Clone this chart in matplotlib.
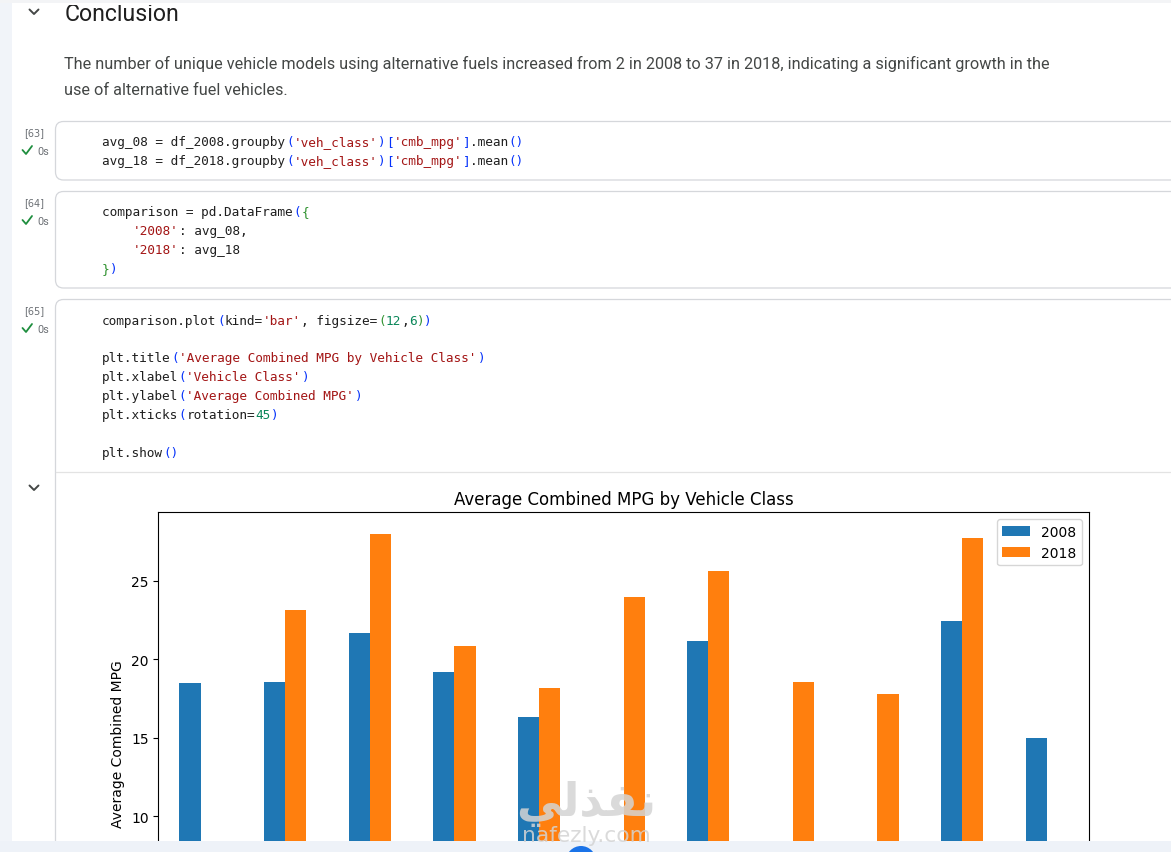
import numpy as np
import matplotlib
matplotlib.use("Agg")
import matplotlib.pyplot as plt
import pandas as pd
from matplotlib.patches import FancyBboxPatch, Rectangle, Circle

# ---------------- data ----------------
categories = ['SUV', 'large car', 'midsize car', 'minivan', 'pickup', 'small SUV',
              'small car', 'special purpose', 'standard SUV', 'station wagon', 'van']
mpg_2008 = [18.47, 18.53, 21.65, 19.17, 16.32, np.nan, 21.14, np.nan, np.nan, 22.41, 14.97]
mpg_2018 = [np.nan, 23.11, 27.95, 20.82, 18.16, 23.94, 25.59, 18.53, 17.77, 27.69, np.nan]
series_names = ['2008', '2018']
chart_title = 'Average Combined MPG by Vehicle Class'
x_label = 'Vehicle Class'
y_label = 'Average Combined MPG'

heading = 'Conclusion'
para_lines = ['The number of unique vehicle models using alternative fuels increased from 2 in 2008 to 37 in 2018, indicating a significant growth in the',
              'use of alternative fuel vehicles.']
cell_numbers = ['[63]', '[64]', '[65]']
watermark_ar = '\ufef2\ufedf\ufeac\ufed4\ufee7'   # نفذلي (shaped, visual order)
watermark_en = 'nafezly.com'

# code cells: list of lines, each a list of (text, kind)
code_63 = [
    [('avg_08 = df_2008.groupby', 'n'), ('(', 'b1'), ("'veh_class'", 's'), (')', 'b1'), ('[', 'b1'),
     ("'cmb_mpg'", 's'), (']', 'b1'), ('.mean', 'n'), ('()', 'b1')],
    [('avg_18 = df_2018.groupby', 'n'), ('(', 'b1'), ("'veh_class'", 's'), (')', 'b1'), ('[', 'b1'),
     ("'cmb_mpg'", 's'), (']', 'b1'), ('.mean', 'n'), ('()', 'b1')],
]
code_64 = [
    [('comparison = pd.DataFrame', 'n'), ('(', 'b1'), ('{', 'b2')],
    [('    ', 'n'), ("'2008'", 's'), (': avg_08,', 'n')],
    [('    ', 'n'), ("'2018'", 's'), (': avg_18', 'n')],
    [('}', 'b2'), (')', 'b1')],
]
code_65 = [
    [('comparison.plot', 'n'), ('(', 'b1'), ('kind=', 'n'), ("'bar'", 's'), (', figsize=', 'n'),
     ('(', 'b2'), ('12', 'num'), (',', 'n'), ('6', 'num'), (')', 'b2'), (')', 'b1')],
    [],
    [('plt.title', 'n'), ('(', 'b1'), ("'Average Combined MPG by Vehicle Class'", 's'), (')', 'b1')],
    [('plt.xlabel', 'n'), ('(', 'b1'), ("'Vehicle Class'", 's'), (')', 'b1')],
    [('plt.ylabel', 'n'), ('(', 'b1'), ("'Average Combined MPG'", 's'), (')', 'b1')],
    [('plt.xticks', 'n'), ('(', 'b1'), ('rotation=', 'n'), ('45', 'num'), (')', 'b1')],
    [],
    [('plt.show', 'n'), ('()', 'b1')],
]

# ---------------- figure ----------------
W, H = 1171, 853
fig = plt.figure(figsize=(W / 100, H / 100), dpi=100)
fig.patch.set_facecolor('white')

bg = fig.add_axes([0, 0, 1, 1], zorder=0)
bg.set_xlim(0, W)
bg.set_ylim(H, 0)
bg.axis('off')
renderer = fig.canvas.get_renderer()


def fit_text(ax, x, y, s, target_w, **kw):
    t = ax.text(x, y, s, **kw)
    w = t.get_window_extent(renderer).width
    t.set_fontsize(t.get_fontsize() * target_w / w)
    return t

# page chrome
bg.add_patch(Rectangle((0, 0), 12, H, color='#f1f4f9', lw=0))

def chevron(ax, cx, cy, color='#444746'):
    ax.plot([cx - 4.5, cx, cx + 4.5], [cy - 2.5, cy + 2, cy - 2.5], color=color, lw=1.4,
            solid_capstyle='round', solid_joinstyle='round')

chevron(bg, 34, 13)
chevron(bg, 34, 489)

fit_text(bg, 65, 21, heading, 115, fontsize=16, family='Roboto', color='#1f1f1f',
         va='baseline', ha='left')
fit_text(bg, 64, 69, para_lines[0], 984, fontsize=12, family='Roboto', color='#444746',
         va='baseline', ha='left')
t2 = bg.text(64, 95, para_lines[1], family='Roboto', color='#444746', va='baseline', ha='left')
t2.set_fontsize(bg.texts[-2].get_fontsize())

# cells
border = '#d5d7db'
for (top, h) in [(122.5, 58.5), (192.5, 96.5), (300.5, 700)]:
    bg.add_patch(FancyBboxPatch((55.5, top), 1300, h,
                                boxstyle='round,pad=0,rounding_size=8',
                                fc='white', ec=border, lw=0.9))
bg.plot([56, W], [473, 473], color='#e3e3e3', lw=0.9)

for num, y0 in zip(cell_numbers, [133, 203, 311]):
    bg.text(34, y0, num, family='DejaVu Sans', fontsize=7.0, color='#6b6f74', ha='center', va='center')
    yc = y0 + 18.5
    bg.plot([22.5, 26, 32], [yc - 0.5, yc + 3.5, yc - 4.5], color='#1e8e3e', lw=1.3,
            solid_capstyle='round', solid_joinstyle='round')
    bg.text(37, yc, '0s', family='Roboto', fontsize=7.8, color='#6b6f74', ha='left', va='center')

colors = {'n': '#1f1f1f', 's': '#a31515', 'b1': '#0431fa', 'b2': '#319331', 'num': '#098658'}
cw = 7.67
code_fs = cw / 0.602 * 0.72

def draw_code(lines, ys):
    for line, y in zip(lines, ys):
        col = 0
        for txt, kind in line:
            bg.text(102 + col * cw, y, txt, family='DejaVu Sans Mono', fontsize=code_fs,
                    color=colors[kind], ha='left', va='center')
            col += len(txt)

draw_code(code_63, [142.3, 161.5])
draw_code(code_64, [212.3, 231.3, 250.3, 269.5])
draw_code(code_65, [321, 339.5, 358.3, 377.5, 396.5, 415.8, 434.8, 454])

# ---------------- chart ----------------
left, right, top, y0px = 158.3, 1089.0, 513.3, 974.3
ax = fig.add_axes([left / W, (H - y0px) / H, (right - left) / W, (y0px - top) / H], zorder=1)
comparison = pd.DataFrame({series_names[0]: mpg_2008, series_names[1]: mpg_2018}, index=categories)
comparison.plot(kind='bar', ax=ax)
ax.set_title(chart_title)
ax.set_xlabel(x_label)
ax.set_ylabel(y_label)
plt.setp(ax.get_xticklabels(), rotation=45)
ax.legend(loc='upper right')

# the screenshot is cropped just below y = 8.4: hide what lies beyond the visible edge
fig.canvas.draw()
for lab in ax.get_xticklabels():
    lab.set_visible(False)
ax.xaxis.label.set_visible(False)
for tick, loc in zip(ax.yaxis.get_major_ticks(), ax.get_yticks()):
    if loc < 8.5:
        tick.label1.set_visible(False)

# ---------------- overlay ----------------
ov = fig.add_axes([0, 0, 1, 1], zorder=3)
ov.set_xlim(0, W)
ov.set_ylim(H, 0)
ov.axis('off')
ov.patch.set_alpha(0)
# top of page (crops the heading)
ov.add_patch(Rectangle((12, 0), W, 6, color='white', lw=0))
ov.add_patch(Rectangle((0, 0), W, 3.5, color='#f3f4f6', lw=0))
fit_text(ov, 586, 804, watermark_ar, 140, fontsize=30, family='DejaVu Sans', weight='bold',
         color='#d4d4d4', alpha=0.85, ha='center', va='center')
fit_text(ov, 586, 836, watermark_en, 129, fontsize=16, family='DejaVu Sans',
         color='#d4d4d4', alpha=0.85, ha='center', va='center')
ov.add_patch(Rectangle((0, 842), W, 12, color='#eef2f8', lw=0))
ov.add_patch(Circle((581, 862), 15, color='#1a73e8', lw=0))

fig.savefig('out.png', dpi=100)
